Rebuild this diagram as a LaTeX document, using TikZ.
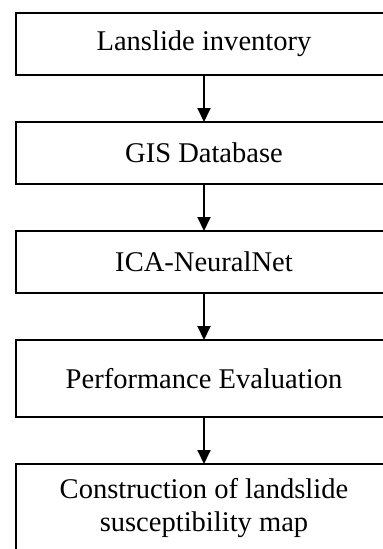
\documentclass[tikz,border=0pt]{standalone}
\usepackage{fontspec}
\setmainfont{Liberation Serif}
\usetikzlibrary{arrows.meta, positioning}

\begin{document}
\begin{tikzpicture}[font=\fontsize{20.3}{23.4}\selectfont,
        procbox/.style={draw, line width=1.4pt, outer sep=0pt, inner sep=0pt,
            minimum width=9.4cm, minimum height=1.55cm, align=center},
        flow/.style={-{Triangle[width=0.325cm, length=0.35cm]}, line width=1.4pt},
        node distance=1.175cm]
        \useasboundingbox (0,0) rectangle (9.575,-13.725);
        \clip (0,0) rectangle (9.575,-13.725);
        \node[procbox] (inv) at (5.1,-1.1) {Lanslide inventory};
        \node[procbox, below=of inv] (gis) {GIS Database};
        \node[procbox, below=of gis] (ica) {ICA-NeuralNet};
        \node[procbox, below=of ica, minimum height=1.925cm] (perf) {Performance Evaluation};
        \node[procbox, below=of perf, minimum height=2.2cm] (map)
            {Construction of landslide\\susceptibility map};
        \foreach \a/\b in {inv/gis, gis/ica, ica/perf, perf/map}
            \draw[flow] (\a) -- (\b);
    \end{tikzpicture}
\end{document}
